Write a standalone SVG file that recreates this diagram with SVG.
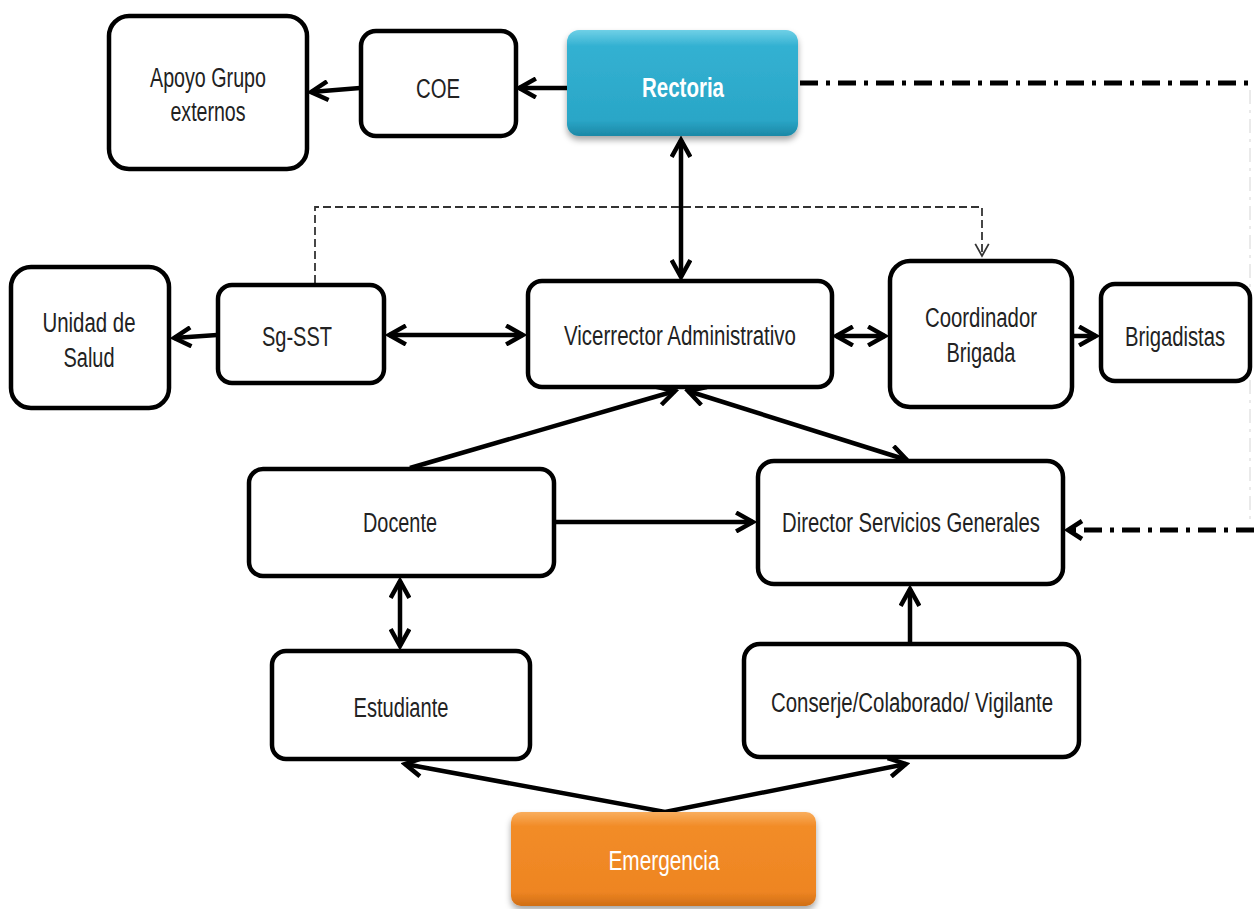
<svg xmlns="http://www.w3.org/2000/svg" width="1254" height="909" viewBox="0 0 1254 909">
<style>
.box{fill:#fff;stroke:#000;stroke-width:4.5}
.t{font-family:"Liberation Sans",Arial,sans-serif;font-size:27px;fill:#222;text-anchor:middle}
.tw{font-family:"Liberation Sans",Arial,sans-serif;font-size:27px;fill:#fff;text-anchor:middle}
.c{fill:none;stroke:#000;stroke-width:4.5}
.dd{fill:none;stroke:#000;stroke-width:5;stroke-dasharray:18 8 4 8}
.ds{fill:none;stroke:#333;stroke-width:1.8;stroke-dasharray:8 4}
</style>
<defs>
<marker id="a" viewBox="0 0 12 12" refX="10" refY="6" markerWidth="5" markerHeight="5" orient="auto-start-reverse" markerUnits="strokeWidth">
<path d="M1,1 L10,6 L1,11" fill="none" stroke="#000" stroke-width="2.4"/>
</marker>
<marker id="as" viewBox="0 0 12 12" refX="10" refY="6" markerWidth="9" markerHeight="9" orient="auto" markerUnits="strokeWidth">
<path d="M1,1 L10,6 L1,11" fill="none" stroke="#333" stroke-width="1.3"/>
</marker>
<linearGradient id="gT" x1="0" y1="0" x2="0" y2="1">
<stop offset="0" stop-color="#6fd0e6"/><stop offset="0.15" stop-color="#33b1d2"/><stop offset="0.85" stop-color="#2aa6c7"/><stop offset="1" stop-color="#1d88a6"/>
</linearGradient>
<linearGradient id="gO" x1="0" y1="0" x2="0" y2="1">
<stop offset="0" stop-color="#f9ae5e"/><stop offset="0.15" stop-color="#f28c28"/><stop offset="0.85" stop-color="#ee8522"/><stop offset="1" stop-color="#d06e16"/>
</linearGradient>
<filter id="sh" x="-10%" y="-10%" width="120%" height="130%">
<feDropShadow dx="0" dy="4" stdDeviation="3" flood-color="#000" flood-opacity="0.35"/>
</filter>
</defs>

<g id="connectors">
<line class="c" x1="567" y1="88" x2="519" y2="88" marker-end="url(#a)"/>
<line class="c" x1="360" y1="88" x2="311" y2="92" marker-end="url(#a)"/>
<line class="c" x1="681" y1="140" x2="681" y2="277" marker-start="url(#a)" marker-end="url(#a)"/>
<polyline class="dd" points="800,83 1254,83"/>
<line x1="1250" y1="90" x2="1250" y2="525" stroke="#eaeaea" stroke-width="2" stroke-dasharray="14 6 3 6"/>
<line class="dd" x1="1254" y1="530" x2="1068" y2="530"/>
<path class="c" d="M1082,521 L1068,530 L1082,539" stroke-width="5"/>
<polyline class="ds" points="315,283 315,207 982,207 982,256" marker-end="url(#as)"/>
<line class="c" x1="217" y1="335" x2="174" y2="338" marker-end="url(#a)"/>
<line class="c" x1="389" y1="335" x2="523" y2="335" marker-start="url(#a)" marker-end="url(#a)"/>
<line class="c" x1="836" y1="336" x2="885" y2="336" marker-start="url(#a)" marker-end="url(#a)"/>
<line class="c" x1="1072" y1="336" x2="1096" y2="336" marker-end="url(#a)"/>
<line class="c" x1="410" y1="468" x2="675" y2="391" marker-end="url(#a)"/>
<line class="c" x1="688" y1="391" x2="907" y2="460" marker-start="url(#a)" marker-end="url(#a)"/>
<line class="c" x1="554" y1="522" x2="753" y2="522" marker-end="url(#a)"/>
<line class="c" x1="400" y1="581" x2="400" y2="646" marker-start="url(#a)" marker-end="url(#a)"/>
<line class="c" x1="910" y1="643" x2="910" y2="589" marker-end="url(#a)"/>
<polyline class="c" points="405,764 665,812 906,764" marker-start="url(#a)" marker-end="url(#a)"/>
</g>

<g id="apoyo"><rect class="box" x="109" y="16" width="198" height="153" rx="20"/>
<text class="t" x="208" y="87" textLength="116" lengthAdjust="spacingAndGlyphs">Apoyo Grupo</text><text class="t" x="208" y="121" textLength="75" lengthAdjust="spacingAndGlyphs">externos</text></g>
<g id="coe"><rect class="box" x="361" y="31" width="155" height="105" rx="15"/>
<text class="t" x="438" y="98" textLength="44" lengthAdjust="spacingAndGlyphs">COE</text></g>
<g id="rectoria"><rect x="567" y="30" width="231" height="106" rx="12" fill="url(#gT)" filter="url(#sh)"/>
<text class="tw" x="683" y="97" textLength="82" lengthAdjust="spacingAndGlyphs" font-weight="bold">Rectoria</text></g>
<g id="unidad"><rect class="box" x="11" y="267" width="158" height="141" rx="20"/>
<text class="t" x="89" y="332" textLength="93" lengthAdjust="spacingAndGlyphs">Unidad de</text><text class="t" x="89" y="367" textLength="51" lengthAdjust="spacingAndGlyphs">Salud</text></g>
<g id="sgsst"><rect class="box" x="218" y="285" width="166" height="98" rx="14"/>
<text class="t" x="297" y="346" textLength="70" lengthAdjust="spacingAndGlyphs">Sg-SST</text></g>
<g id="vicerrector"><rect class="box" x="528" y="281" width="304" height="106" rx="14"/>
<text class="t" x="680" y="345" textLength="232" lengthAdjust="spacingAndGlyphs">Vicerrector Administrativo</text></g>
<g id="coordinador"><rect class="box" x="890" y="261" width="182" height="146" rx="20"/>
<text class="t" x="981" y="327" textLength="112" lengthAdjust="spacingAndGlyphs">Coordinador</text><text class="t" x="981" y="362" textLength="69" lengthAdjust="spacingAndGlyphs">Brigada</text></g>
<g id="brigadistas"><rect class="box" x="1101" y="284" width="149" height="97" rx="14"/>
<text class="t" transform="translate(1175,346) scale(0.75,1)" x="0" y="0">Brigadistas</text></g>
<g id="docente"><rect class="box" x="249" y="469" width="305" height="107" rx="14"/>
<text class="t" x="400" y="532" textLength="74" lengthAdjust="spacingAndGlyphs">Docente</text></g>
<g id="director"><rect class="box" x="758" y="461" width="305" height="123" rx="16"/>
<text class="t" x="911" y="532" textLength="258" lengthAdjust="spacingAndGlyphs">Director Servicios Generales</text></g>
<g id="estudiante"><rect class="box" x="272" y="651" width="258" height="108" rx="14"/>
<text class="t" x="401" y="717" textLength="95" lengthAdjust="spacingAndGlyphs">Estudiante</text></g>
<g id="conserje"><rect class="box" x="744" y="644" width="335" height="113" rx="16"/>
<text class="t" x="912" y="712" textLength="282" lengthAdjust="spacingAndGlyphs">Conserje/Colaborado/ Vigilante</text></g>
<g id="emergencia"><rect x="511" y="812" width="305" height="94" rx="10" fill="url(#gO)" filter="url(#sh)"/>
<text class="tw" x="664" y="870" fill="#fff4e0" textLength="111" lengthAdjust="spacingAndGlyphs">Emergencia</text></g>
</svg>
